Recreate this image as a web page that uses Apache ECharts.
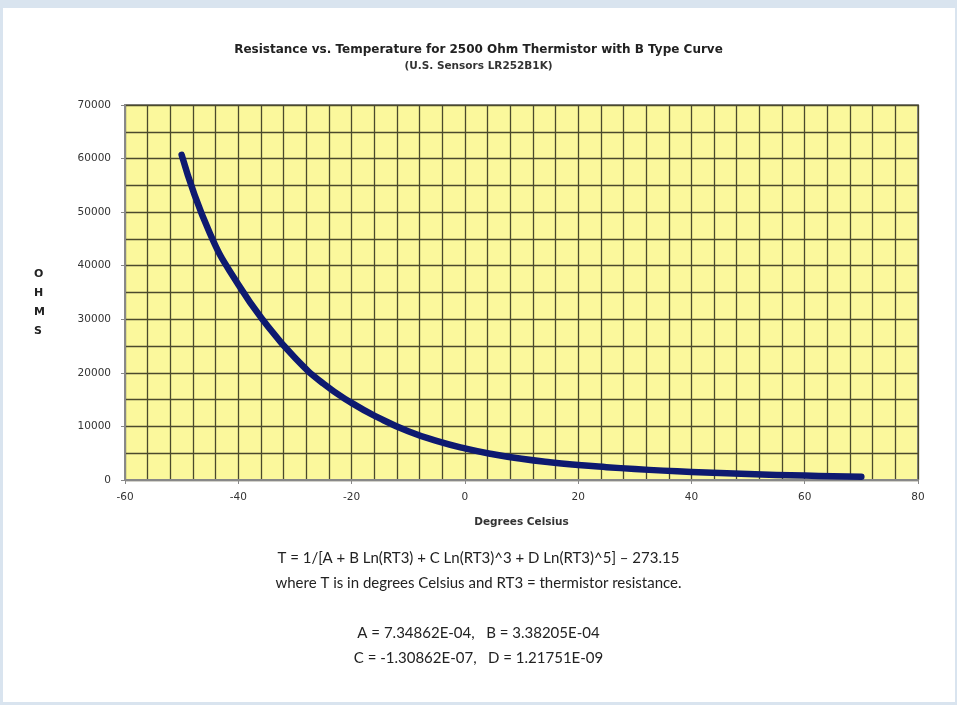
<!DOCTYPE html>
<html>
<head>
<meta charset="utf-8">
<script src="https://cdn.jsdelivr.net/npm/echarts@6/dist/echarts.min.js"></script>
<style>
html,body{margin:0;padding:0;background:#d9e4ef;}
#chart{width:957px;height:705px;}
</style>
</head>
<body>
<div id="chart"></div>
<script>
// Temperature (°C) and resistance (ohms)
const temperatures = [-50,-45,-40,-35,-30,-25,-20,-15,-10,-5,0,5,10,15,20,25,30,35,40,45,50,55,60,65,70];
const resistances = [60700,46000,36500,29000,22800,18000,14400,11500,9100,7300,5900,4800,3950,3300,2800,2400,2050,1750,1500,1300,1100,950,820,700,600];

const titleText = 'Resistance vs. Temperature for 2500 Ohm Thermistor with B Type Curve';
const subtitleText = '(U.S. Sensors LR252B1K)';
const xAxisName = 'Degrees Celsius';
const yAxisName = 'O\nH\nM\nS';
const noteLines = [
  'T = 1/[A + B Ln(RT3) + C Ln(RT3)^3 + D Ln(RT3)^5] \u2013 273.15',
  'where T is in degrees Celsius and RT3 = thermistor resistance.',
  'A = 7.34862E-04,   B = 3.38205E-04',
  'C = -1.30862E-07,   D = 1.21751E-09'
];

const chart = echarts.init(document.getElementById('chart'));
const gridColor = '#4b4a2c';
const chartFont = 'DejaVu Sans, Verdana, sans-serif';
const lblFont = {fontFamily:chartFont, fontSize:10.5, color:'#333'};
const noteStyle = {fontFamily:'Lato, sans-serif', fontSize:15, fontWeight:'normal', color:'#222'};
const noteY = [546, 571, 621, 646];

const seriesData = temperatures.map((t,i)=>[t, resistances[i]]);

chart.setOption({
  backgroundColor:'#d9e4ef',
  animation:false,
  graphic:[
    {type:'rect', left:3, top:8, shape:{width:952, height:694}, style:{fill:'#ffffff'}, z:-10, silent:true},
    {type:'text', left:34, top:265, style:{text:yAxisName, fontFamily:chartFont, fontSize:11, fontWeight:'bold', fill:'#222', lineHeight:19, align:'center'}}
  ],
  title:[
    {text:titleText, left:'center', top:39,
     textStyle:{fontFamily:chartFont, fontSize:12, fontWeight:'bold', color:'#222'}},
    {text:subtitleText, left:'center', top:56,
     textStyle:{fontFamily:chartFont, fontSize:10.5, fontWeight:'bold', color:'#333'}},
    ...noteLines.map((s,i)=>({text:s, left:'center', top:noteY[i], textStyle:noteStyle}))
  ],
  grid:{left:125, right:39, top:105, bottom:225, backgroundColor:'#fbf89c', show:true, borderColor:'#888', borderWidth:2},
  xAxis:{
    type:'value', min:-60, max:80, interval:20,
    name:xAxisName, nameLocation:'middle', nameGap:37,
    nameTextStyle:{fontFamily:chartFont, fontSize:10.5, fontWeight:'bold', color:'#333'},
    axisLine:{show:true, onZero:false, lineStyle:{color:'#888', width:2}},
    axisTick:{show:true, length:4, lineStyle:{color:'#888'}},
    axisLabel:{...lblFont, margin:12},
    splitLine:{show:true, lineStyle:{color:gridColor, width:1.3}},
    minorTick:{show:false, splitNumber:5},
    minorSplitLine:{show:true, lineStyle:{color:gridColor, width:1.3}}
  },
  yAxis:{
    type:'value', min:0, max:70000, interval:10000,
    axisLine:{show:true, onZero:false, lineStyle:{color:'#888', width:2}},
    axisTick:{show:true, length:4, lineStyle:{color:'#888'}},
    axisLabel:{...lblFont, margin:14, formatter:(v)=>String(v)},
    splitLine:{show:true, lineStyle:{color:gridColor, width:1.3}},
    minorTick:{show:false, splitNumber:2},
    minorSplitLine:{show:true, lineStyle:{color:gridColor, width:1.3}}
  },
  series:[{
    type:'line', data:seriesData, smooth:true, showSymbol:false,
    lineStyle:{color:'#0e1a70', width:6.5, cap:'round', join:'round'}
  }]
});
</script>
</body>
</html>
